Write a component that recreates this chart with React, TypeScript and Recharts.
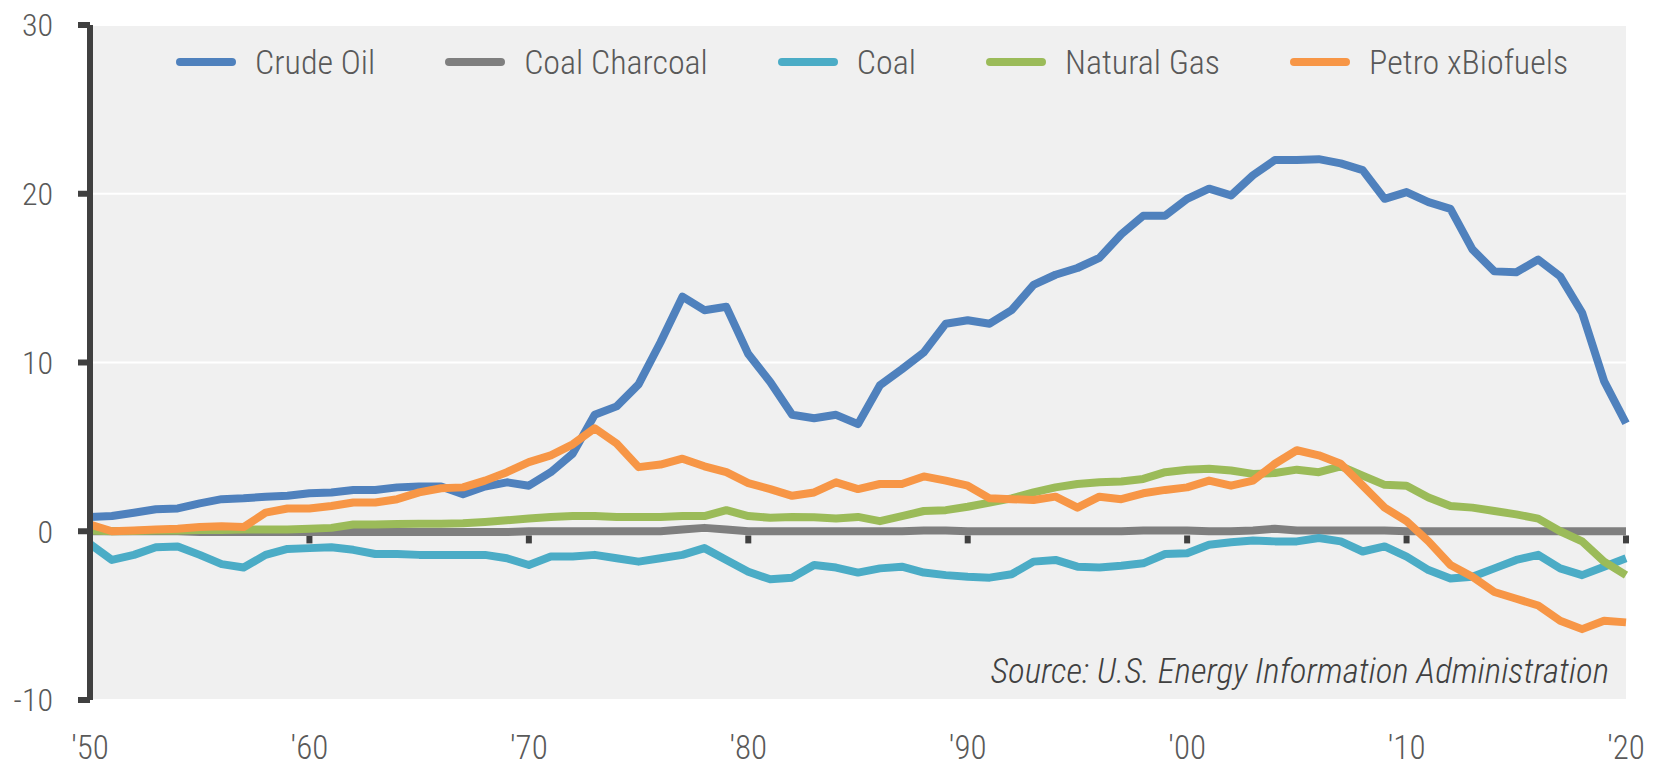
import { LineChart, Line, XAxis, YAxis, CartesianGrid, ReferenceLine, Legend } from 'recharts';

const FONT = '"Roboto Condensed", "Liberation Sans Narrow", "DejaVu Sans Condensed", "Liberation Sans", sans-serif';

const years = [
  1950, 1951, 1952, 1953, 1954, 1955, 1956, 1957, 1958, 1959,
  1960, 1961, 1962, 1963, 1964, 1965, 1966, 1967, 1968, 1969,
  1970, 1971, 1972, 1973, 1974, 1975, 1976, 1977, 1978, 1979,
  1980, 1981, 1982, 1983, 1984, 1985, 1986, 1987, 1988, 1989,
  1990, 1991, 1992, 1993, 1994, 1995, 1996, 1997, 1998, 1999,
  2000, 2001, 2002, 2003, 2004, 2005, 2006, 2007, 2008, 2009,
  2010, 2011, 2012, 2013, 2014, 2015, 2016, 2017, 2018, 2019, 2020,
];

const crudeOil = [
  0.85, 0.9, 1.1, 1.3, 1.35, 1.65, 1.9, 1.95, 2.05, 2.1,
  2.25, 2.3, 2.45, 2.45, 2.6, 2.65, 2.65, 2.2, 2.65, 2.9,
  2.7, 3.5, 4.6, 6.9, 7.4, 8.7, 11.2, 13.9, 13.1, 13.3,
  10.5, 8.85, 6.9, 6.7, 6.9, 6.35, 8.65, 9.6, 10.6, 12.3,
  12.5, 12.3, 13.1, 14.6, 15.2, 15.6, 16.2, 17.6, 18.7, 18.7,
  19.7, 20.3, 19.9, 21.1, 22.0, 22.0, 22.05, 21.8, 21.4, 19.7,
  20.1, 19.5, 19.1, 16.7, 15.4, 15.35, 16.1, 15.1, 12.95, 8.9, 6.4,
];

const coalCharcoal = [
  0, 0, 0, 0, 0, -0.05, -0.05, -0.05, -0.05, -0.05,
  -0.05, -0.05, -0.05, -0.05, -0.05, -0.05, -0.05, -0.05, -0.05, -0.05,
  0, 0, 0, 0, 0, 0, 0, 0.1, 0.2, 0.1,
  0, 0, 0, 0, 0, 0, 0, 0, 0.05, 0.05,
  0, 0, 0, 0, 0, 0, 0, 0, 0.05, 0.05,
  0.05, 0, 0, 0.05, 0.15, 0.05, 0.05, 0.05, 0.05, 0.05,
  0, 0, 0, 0, 0, 0, 0, 0, 0, 0, 0,
];

const coal = [
  -0.75, -1.7, -1.4, -0.95, -0.9, -1.4, -1.95, -2.15, -1.4, -1.05,
  -1.0, -0.95, -1.1, -1.35, -1.35, -1.4, -1.4, -1.4, -1.4, -1.6,
  -2.0, -1.5, -1.5, -1.4, -1.6, -1.8, -1.6, -1.4, -1.0, -1.7,
  -2.4, -2.85, -2.75, -2.0, -2.15, -2.45, -2.2, -2.1, -2.45, -2.6,
  -2.7, -2.75, -2.55, -1.8, -1.7, -2.1, -2.15, -2.05, -1.9, -1.35,
  -1.3, -0.8, -0.65, -0.55, -0.6, -0.6, -0.4, -0.6, -1.2, -0.9,
  -1.5, -2.3, -2.8, -2.7, -2.2, -1.7, -1.4, -2.2, -2.6, -2.1, -1.6,
];

const naturalGas = [
  0.05, 0.0, 0.02, 0.04, 0.05, 0.07, 0.08, 0.1, 0.1, 0.1,
  0.15, 0.2, 0.4, 0.4, 0.43, 0.45, 0.45, 0.47, 0.55, 0.65,
  0.75, 0.85, 0.9, 0.9, 0.85, 0.85, 0.85, 0.9, 0.9, 1.25,
  0.9, 0.8, 0.85, 0.83, 0.75, 0.85, 0.6, 0.9, 1.2, 1.25,
  1.45, 1.7, 1.95, 2.3, 2.6, 2.8, 2.9, 2.95, 3.1, 3.5,
  3.65, 3.7, 3.6, 3.4, 3.45, 3.65, 3.5, 3.85, 3.3, 2.75,
  2.7, 2.0, 1.5, 1.4, 1.2, 1.0, 0.75, 0.0, -0.6, -1.8, -2.6,
];

const petroXBiofuels = [
  0.4, 0.0, 0.05, 0.1, 0.15, 0.25, 0.3, 0.25, 1.1, 1.35,
  1.35, 1.5, 1.7, 1.7, 1.9, 2.3, 2.55, 2.6, 3.0, 3.5,
  4.1, 4.5, 5.15, 6.1, 5.2, 3.8, 3.95, 4.3, 3.85, 3.5,
  2.85, 2.5, 2.1, 2.3, 2.9, 2.5, 2.8, 2.8, 3.25, 3.0,
  2.7, 1.95, 1.9, 1.85, 2.05, 1.4, 2.05, 1.9, 2.25, 2.45,
  2.6, 3.0, 2.7, 3.0, 4.0, 4.8, 4.5, 4.0, 2.7, 1.4,
  0.6, -0.6, -2.0, -2.7, -3.6, -4.0, -4.4, -5.3, -5.8, -5.3, -5.4,
];

const yTicks = [-10, 0, 10, 20, 30];
const decadeTicks = [1950, 1960, 1970, 1980, 1990, 2000, 2010, 2020];

const SERIES = [
  { key: 'crudeOil', name: 'Crude Oil', color: '#4f81bd', values: crudeOil },
  { key: 'coalCharcoal', name: 'Coal Charcoal', color: '#7f7f7f', values: coalCharcoal },
  { key: 'coal', name: 'Coal', color: '#4bacc6', values: coal },
  { key: 'naturalGas', name: 'Natural Gas', color: '#9bbb59', values: naturalGas },
  { key: 'petro', name: 'Petro xBiofuels', color: '#f79646', values: petroXBiofuels },
];

const chartData = years.map((year, i) => {
  const row: Record<string, number> = { year };
  for (const s of SERIES) row[s.key] = s.values[i];
  return row;
});

const fmtYear = (v: number) => `'${String(v).slice(2)}`;

function XTick({ x, y, payload }: any) {
  return (
    <text
      x={x}
      y={y}
      dy={47}
      textAnchor="middle"
      dominantBaseline="central"
      fill="#595959"
      fontSize={33}
      fontWeight={300}
      fontFamily={FONT}
    >
      {fmtYear(payload.value)}
    </text>
  );
}

function LegendContent() {
  return (
    <div style={{ display: 'flex', alignItems: 'center', fontFamily: FONT, fontWeight: 300, whiteSpace: 'nowrap' }}>
      {SERIES.map((s) => (
        <span key={s.key} style={{ display: 'flex', alignItems: 'center', marginRight: 70 }}>
          <span style={{ width: 60, height: 8, borderRadius: 4, background: s.color, marginRight: 19 }} />
          <span style={{ fontSize: 34, color: '#595959', lineHeight: '40px' }}>{s.name}</span>
        </span>
      ))}
    </div>
  );
}

export default function App() {
  return (
    <div style={{ position: 'absolute', left: 0, top: 0, width: 1654, height: 765, background: '#fff' }}>
      <LineChart width={1654} height={765} data={chartData} margin={{ top: 25, right: 28, bottom: 0, left: 0 }}>
        <CartesianGrid vertical={false} stroke="#ffffff" strokeWidth={2} fill="#f0f0f0" />
        <XAxis
          dataKey="year"
          type="number"
          domain={[1950, 2020]}
          ticks={decadeTicks}
          interval={0}
          height={65}
          axisLine={false}
          tickLine={false}
          tickSize={0}
          tickMargin={0}
          tick={<XTick />}
        />
        <YAxis
          domain={[-10, 30]}
          ticks={yTicks}
          interval={0}
          width={90}
          axisLine={{ stroke: '#404040', strokeWidth: 6 }}
          tickLine={{ stroke: '#404040', strokeWidth: 6 }}
          tickSize={12}
          tickMargin={25}
          tick={{ fill: '#595959', fontSize: 32, fontWeight: 300, fontFamily: FONT }}
        />
        {decadeTicks.slice(1).map((d) => (
          <ReferenceLine
            key={d}
            segment={[{ x: d, y: -0.25 }, { x: d, y: -0.72 }]}
            stroke="#404040"
            strokeWidth={6}
          />
        ))}
        <Legend
          layout="vertical"
          align="center"
          verticalAlign="middle"
          content={<LegendContent />}
          wrapperStyle={{ top: 42, left: 176, width: 'auto', height: 'auto' }}
        />
        {SERIES.map((s) => (
          <Line
            key={s.key}
            type="linear"
            dataKey={s.key}
            name={s.name}
            stroke={s.color}
            strokeWidth={8}
            strokeLinejoin="round"
            dot={false}
            activeDot={false}
            isAnimationActive={false}
          />
        ))}
      </LineChart>
      <div
        style={{
          position: 'absolute',
          right: 1654 - 1609,
          top: 652,
          fontFamily: FONT,
          fontStyle: 'italic',
          fontWeight: 300,
          fontSize: 35,
          lineHeight: '40px',
          color: '#404040',
          whiteSpace: 'nowrap',
        }}
      >
        Source: U.S. Energy Information Administration
      </div>
    </div>
  );
}
